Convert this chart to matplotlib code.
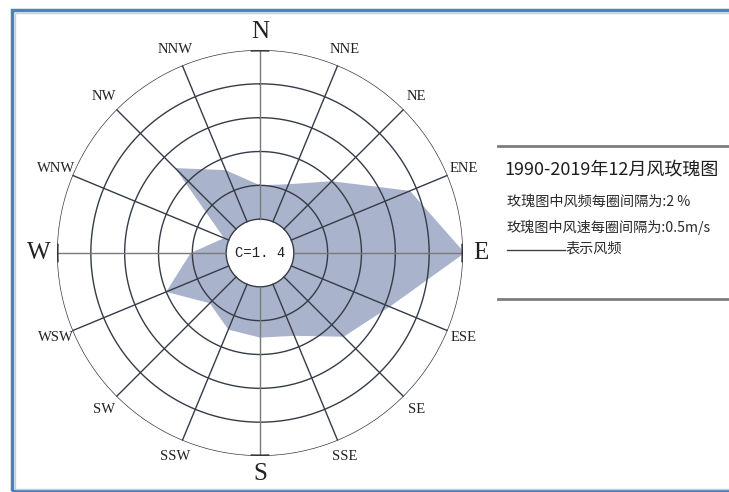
import matplotlib
matplotlib.use("Agg")
import matplotlib.pyplot as plt
import numpy as np
from matplotlib.patches import Rectangle
from matplotlib.lines import Line2D

# 16 wind directions, clockwise from north
directions = ["N", "NNE", "NE", "ENE", "E", "ESE", "SE", "SSE",
              "S", "SSW", "SW", "WSW", "W", "WNW", "NW", "NNW"]
# wind frequency (%) per direction
freq = [4.0, 4.4, 6.0, 9.6, 12.1, 8.3, 7.0, 5.3,
        5.0, 4.9, 4.2, 6.0, 4.1, 2.3, 7.1, 5.3]
calm_label = "C=1. 4"
rings = [2, 4, 6, 8, 10, 12]

title = "1990-2019年12月风玫瑰图"
notes = ["玫瑰图中风频每圈间隔为:2 %", "玫瑰图中风速每圈间隔为:0.5m/s"]
legend_label = "表示风频"

W, H = 729, 492
fig = plt.figure(figsize=(W / 100, H / 100), dpi=100)

cx, cy, R = 260, 253, 203
ax = fig.add_axes([(cx - R) / W, (H - cy - R) / H, 2 * R / W, 2 * R / H],
                  projection="polar")
ax.set_theta_zero_location("N")
ax.set_theta_direction(-1)
ax.set_ylim(0, rings[-1])
ax.set_axis_off()

theta = np.deg2rad(np.arange(len(directions)) * 22.5)
th_closed = np.append(theta, theta[0])
r_closed = np.append(freq, freq[0])
ax.fill(th_closed, r_closed, color="#a9b3cb", lw=0, zorder=1)

# calm hole
circ = np.linspace(0, 2 * np.pi, 400)
ax.fill(circ, np.full_like(circ, rings[0]), color="white", lw=0, zorder=2)

# rings
for r in rings:
    ax.plot(circ, np.full_like(circ, r), color="#353b47", lw=1.0, zorder=3)

# spokes
for i, t in enumerate(theta):
    if i % 4 == 0:
        ax.plot([t, t], [rings[0], rings[-1] + 0.15], color="#7a7a7a", lw=1.0, zorder=3)
        arc = np.linspace(t - np.deg2rad(2.2), t + np.deg2rad(2.2), 20)
        ax.plot(arc, np.full_like(arc, rings[-1]), color="#333333", lw=2.2, zorder=4)
    else:
        ax.plot([t, t], [rings[0], rings[-1]], color="#353b47", lw=1.0, zorder=3)

# direction labels
for i, (t, d) in enumerate(zip(theta, directions)):
    big = i % 4 == 0
    ax.text(t, 13.05, d, ha="center", va="center",
            family="Liberation Serif", fontsize=18 if big else 10.5,
            color="#222222", zorder=5)

ax.text(0, 0, calm_label, ha="center", va="center",
        family="Liberation Mono", fontsize=10, color="#222222", zorder=5)

# legend panel on the right
def fx(px):
    return px / W

def fy(py):
    return 1 - py / H

for py in (146, 299):
    fig.add_artist(Line2D([fx(498), fx(729)], [fy(py), fy(py)],
                          color="#7d7d7d", lw=2.0))

cjk = ["Noto Sans CJK SC", "DejaVu Sans"]
fig.text(fx(504), fy(169), title, family=cjk, fontsize=13,
         color="#1e1e1e", va="center", ha="left")
fig.text(fx(507), fy(202), notes[0], family=cjk, fontsize=10.2,
         color="#2a2a2a", va="center", ha="left")
fig.text(fx(507), fy(227), notes[1], family=cjk, fontsize=10.2,
         color="#2a2a2a", va="center", ha="left")
fig.add_artist(Line2D([fx(507), fx(565)], [fy(250), fy(250)],
                      color="#444444", lw=1.0))
fig.text(fx(565), fy(249), legend_label, family=cjk, fontsize=10.2,
         color="#2a2a2a", va="center", ha="left")

# blue outer frame
fig.add_artist(Rectangle((fx(12), fy(491)), fx(740) - fx(12), fy(10) - fy(491),
                         fill=False, edgecolor="#4a82bb", lw=2.5,
                         transform=fig.transFigure))
fig.add_artist(Rectangle((fx(14.5), fy(489)), fx(740) - fx(14.5), fy(12.5) - fy(489),
                         fill=False, edgecolor="#b9d3e6", lw=1.0,
                         transform=fig.transFigure))

fig.savefig("out.png", dpi=100)
